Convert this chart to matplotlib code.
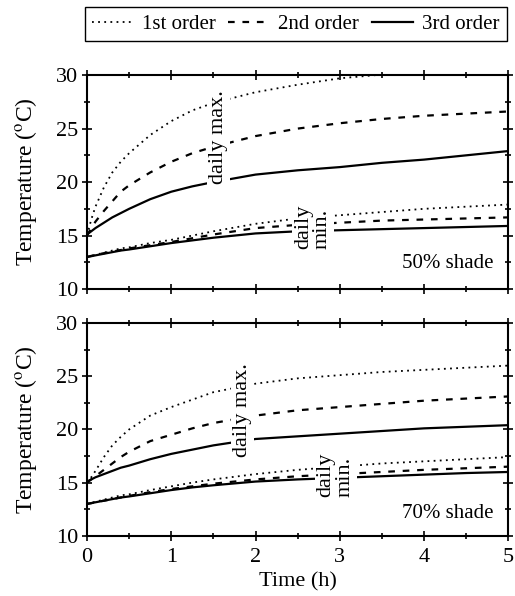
import matplotlib
matplotlib.use("Agg")
import matplotlib.pyplot as plt
from matplotlib.lines import Line2D
from matplotlib.ticker import MultipleLocator

# Time axis shared by all curves (h)
hours = [0, 0.05, 0.1, 0.2, 0.3, 0.4, 0.5, 0.75, 1, 1.25, 1.5, 2, 2.5, 3, 3.5, 4, 4.5, 5]

# 50% shade: daily maximum / minimum temperature (deg C) by model order
max50_1st = [15.0, 16.5, 17.7, 19.5, 20.9, 21.9, 22.7, 24.4, 25.7, 26.7, 27.4,
             28.4, 29.1, 29.7, 30.05, 30.3, 30.5, 30.7]
max50_2nd = [15.0, 15.7, 16.3, 17.3, 18.2, 19.1, 19.7, 20.9, 21.9, 22.7, 23.3,
             24.3, 25.0, 25.5, 25.9, 26.2, 26.4, 26.6]
max50_3rd = [15.1, 15.4, 15.7, 16.2, 16.7, 17.1, 17.5, 18.4, 19.1, 19.6, 20.0,
             20.7, 21.1, 21.4, 21.8, 22.1, 22.5, 22.9]
min50_1st = [13.0, 13.1, 13.2, 13.4, 13.6, 13.8, 13.9, 14.3, 14.6, 15.0, 15.4,
             16.1, 16.6, 16.9, 17.2, 17.5, 17.7, 17.9]
min50_2nd = [13.0, 13.1, 13.2, 13.35, 13.5, 13.65, 13.8, 14.1, 14.4, 14.75, 15.1,
             15.7, 16.0, 16.2, 16.4, 16.5, 16.6, 16.7]
min50_3rd = [13.0, 13.07, 13.15, 13.3, 13.45, 13.6, 13.7, 14.0, 14.3, 14.55, 14.8,
             15.2, 15.4, 15.5, 15.6, 15.7, 15.8, 15.9]

# 70% shade
max70_1st = [15.0, 15.5, 16.1, 17.4, 18.5, 19.3, 20.0, 21.3, 22.1, 22.8, 23.5,
             24.3, 24.8, 25.1, 25.4, 25.6, 25.8, 26.0]
max70_2nd = [15.0, 15.3, 15.6, 16.2, 16.8, 17.4, 17.9, 18.9, 19.5, 20.1, 20.6,
             21.3, 21.8, 22.1, 22.4, 22.7, 22.9, 23.1]
max70_3rd = [15.1, 15.3, 15.5, 15.8, 16.1, 16.4, 16.6, 17.2, 17.7, 18.1, 18.5,
             19.1, 19.35, 19.6, 19.85, 20.1, 20.25, 20.4]
min70_1st = [13.0, 13.1, 13.2, 13.4, 13.6, 13.8, 13.9, 14.3, 14.65, 15.0, 15.3,
             15.8, 16.2, 16.5, 16.8, 17.0, 17.2, 17.4]
min70_2nd = [13.0, 13.07, 13.15, 13.3, 13.45, 13.6, 13.75, 14.1, 14.4, 14.65, 14.9,
             15.3, 15.6, 15.8, 16.0, 16.2, 16.35, 16.5]
min70_3rd = [13.0, 13.07, 13.15, 13.3, 13.45, 13.6, 13.7, 14.0, 14.3, 14.55, 14.75,
             15.1, 15.3, 15.45, 15.6, 15.75, 15.9, 16.0]

ORDER_LABELS = ["1st order", "2nd order", "3rd order"]
STYLES = [
    dict(linestyle=(0, (1, 2.4)), linewidth=1.3),
    dict(linestyle=(0, (3, 3.5)), linewidth=1.6),
    dict(linestyle="-", linewidth=1.6),
]

plt.rcParams.update({
    "font.family": ["Liberation Serif", "DejaVu Serif"],
    "font.size": 16,
    "axes.linewidth": 1.5,
    "mathtext.fontset": "stix",
})

fig = plt.figure(figsize=(5.15, 5.96), dpi=100)
ax_top = fig.add_axes([0.169, 0.515, 0.818, 0.359])
ax_bot = fig.add_axes([0.169, 0.101, 0.818, 0.357])

panels = [
    (ax_top, [max50_1st, max50_2nd, max50_3rd], [min50_1st, min50_2nd, min50_3rd],
     "50% shade", (1.56, 24.2), (2.68, 15.8), 12.4),
    (ax_bot, [max70_1st, max70_2nd, max70_3rd], [min70_1st, min70_2nd, min70_3rd],
     "70% shade", (1.85, 21.8), (2.95, 15.7), 12.1),
]

for ax, maxes, mins, shade, max_pos, min_pos, shade_y in panels:
    for series, style in zip(maxes, STYLES):
        ax.plot(hours, series, color="black", zorder=2, **style)
    for series, style in zip(mins, STYLES):
        ax.plot(hours, series, color="black", zorder=2, **style)

    white = dict(facecolor="white", edgecolor="none", pad=1.5)
    ax.text(*max_pos, "daily max.", rotation=90, ha="center", va="center",
            bbox=white, zorder=3)
    ax.text(*min_pos, "daily\nmin.", rotation=90, ha="center", va="center",
            multialignment="left", linespacing=1.0, bbox=white, zorder=3)
    ax.text(4.82, shade_y, shade, ha="right", va="center", fontsize=15)

    ax.set_xlim(0, 5)
    ax.set_ylim(10, 30)
    ax.xaxis.set_major_locator(MultipleLocator(1))
    ax.xaxis.set_minor_locator(MultipleLocator(0.5))
    ax.yaxis.set_major_locator(MultipleLocator(5))
    ax.yaxis.set_minor_locator(MultipleLocator(2.5))
    ax.tick_params(which="both", direction="inout", top=True, right=True, width=1.2)
    ax.tick_params(which="major", length=7)
    ax.tick_params(which="minor", length=4)
    ax.tick_params(axis="x", pad=5)
    ax.tick_params(axis="y", pad=3)
    ax.set_ylabel("Temperature ($^{\\rm o}$C)", fontsize=17, labelpad=12)

ax_top.tick_params(labelbottom=False)
ax_bot.set_xlabel("Time (h)", labelpad=4)

handles = [Line2D([], [], color="black", **s) for s in STYLES]
fig.legend(handles, ORDER_LABELS, loc="upper center", ncol=3, fontsize=15,
           bbox_to_anchor=(0.574, 0.988), frameon=True, fancybox=False,
           edgecolor="black", framealpha=1, handlelength=2.0,
           handletextpad=0.4, columnspacing=0.6, borderpad=0.35,
           borderaxespad=0)

fig.savefig("out.png", dpi=100)
